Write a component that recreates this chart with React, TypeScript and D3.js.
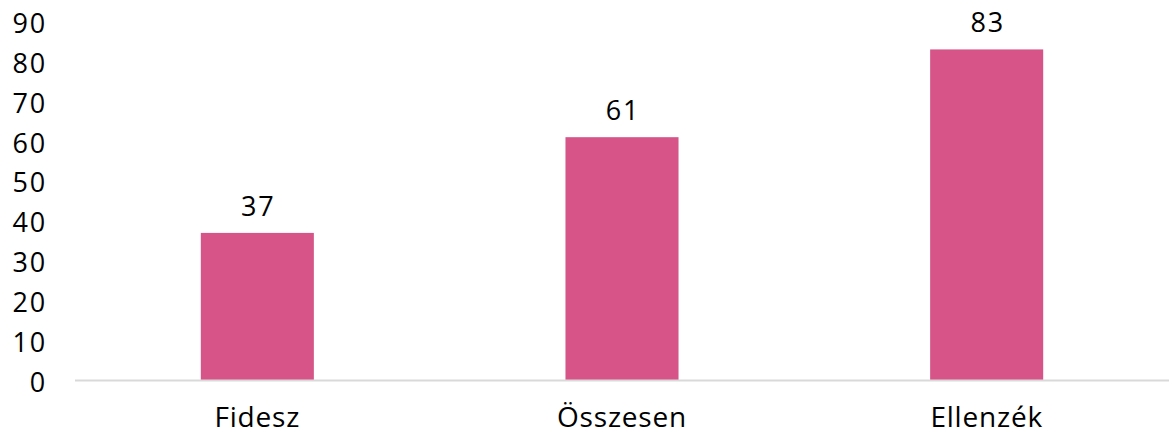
import { useEffect, useRef } from "react";
import * as d3 from "d3";

const W = 1169, H = 435;
const CATEGORIES = ["Fidesz", "Összesen", "Ellenzék"];
const VALUES = [37, 61, 83];
const Y_TICKS = [0, 10, 20, 30, 40, 50, 60, 70, 80, 90];

const BAR = "#d65487";
const AXIS = "#d9d9d9";
const FONT = "'Open Sans', Lato, sans-serif";

export default function App() {
  const ref = useRef<SVGSVGElement>(null);

  useEffect(() => {
    const svg = d3.select(ref.current);
    svg.selectAll("*").remove();

    const x = d3.scaleBand<string>().domain(CATEGORIES).range([75, W]).paddingInner(0.69).paddingOuter(0.345);
    const y = d3.scaleLinear().domain([0, 90]).range([380.5, 21.5]);

    // y tick labels
    svg.append("g").selectAll("text").data(Y_TICKS).join("text")
      .attr("x", 47).attr("y", d => y(d)).attr("dy", "0.42em")
      .attr("text-anchor", "end").attr("font-size", 27).attr("font-family", FONT)
      .attr("letter-spacing", 1.8)
      .attr("fill", "#000").text(d => d);

    // bars
    svg.append("g").selectAll("rect").data(VALUES).join("rect")
      .attr("x", (_, i) => x(CATEGORIES[i])!)
      .attr("width", x.bandwidth())
      .attr("y", d => y(d))
      .attr("height", d => y(0) - y(d))
      .attr("fill", BAR);

    // value labels
    svg.append("g").selectAll("text").data(VALUES).join("text")
      .attr("x", (_, i) => x(CATEGORIES[i])! + x.bandwidth() / 2 + 1)
      .attr("y", d => y(d) - 17)
      .attr("text-anchor", "middle").attr("font-size", 27).attr("font-family", FONT)
      .attr("letter-spacing", 1.8)
      .attr("fill", "#000").text(d => d);

    // baseline
    svg.append("line").attr("x1", 75).attr("x2", W).attr("y1", y(0)).attr("y2", y(0))
      .attr("stroke", AXIS).attr("stroke-width", 2);

    // category labels
    svg.append("g").selectAll("text").data(CATEGORIES).join("text")
      .attr("x", d => x(d)! + x.bandwidth() / 2)
      .attr("y", 427)
      .attr("text-anchor", "middle").attr("font-size", 28).attr("font-family", FONT)
      .attr("letter-spacing", 0.8)
      .attr("fill", "#000").text(d => d);
  }, []);

  return (
    <div style={{ position: "absolute", left: 0, top: 0, width: W, height: H, background: "#fff" }}>
      <svg ref={ref} width={W} height={H} style={{ display: "block" }} />
    </div>
  );
}
